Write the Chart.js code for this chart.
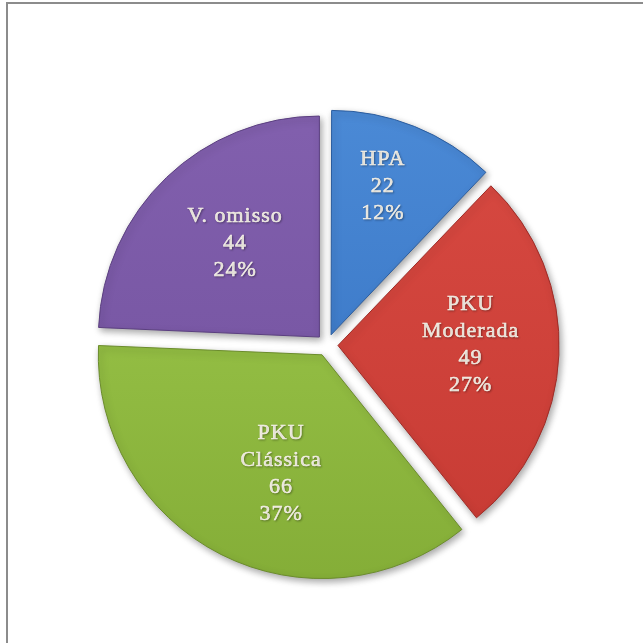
<!DOCTYPE html>
<html>
<head>
<meta charset="utf-8">
<script src="https://cdn.jsdelivr.net/npm/chart.js@4"></script>
<style>
  html, body { margin: 0; padding: 0; background: #fff; overflow: hidden; }
  #wrap { position: relative; width: 643px; height: 643px; }
  #frame { position: absolute; left: 6px; top: 2px; width: 700px; height: 700px; border: 2px solid #8c8c8c; box-sizing: border-box; }
  canvas { position: absolute; left: 0; top: 0; }
</style>
</head>
<body>
<div id="wrap">
  <div id="frame"></div>
  <canvas id="grafico" width="643" height="643"></canvas>
</div>
<script>
// Dados do gráfico
const categorias = ['HPA', 'PKU Moderada', 'PKU Clássica', 'V. omisso'];
const valores = [22, 49, 66, 44];
const percentuais = ['12%', '27%', '37%', '24%'];

// Cores (claro em cima, escuro em baixo)
const coresClaras = ['#4b8ad6', '#d84a42', '#a0cb4e', '#8260ae'];
const coresEscuras = ['#336fbf', '#c63a33', '#84ad37', '#70509c'];
const coresBorda = ['#2a5c9e', '#9e2c27', '#6b8c2c', '#5b3f80'];

// posição dos rótulos: fração do raio e fração do ângulo da fatia
const posRotulos = [
  { r: 0.71, t: 0.44 },
  { r: 0.60, t: 0.47 },
  { r: 0.57, t: 0.44 },
  { r: 0.57, t: 0.52 }
];

const explodir = 44;

function fundo(context) {
  const chart = context.chart;
  const i = context.dataIndex;
  const area = chart.chartArea;
  if (!area) return coresEscuras[i];
  const g = chart.ctx.createLinearGradient(0, area.top, 0, area.bottom);
  g.addColorStop(0, coresClaras[i]);
  g.addColorStop(1, coresEscuras[i]);
  return g;
}

// Sombra das fatias
const sombra = {
  id: 'sombra',
  beforeDatasetsDraw(chart) {
    const ctx = chart.ctx;
    ctx.save();
    ctx.shadowColor = 'rgba(0,0,0,0.35)';
    ctx.shadowBlur = 7;
    ctx.shadowOffsetX = 2;
    ctx.shadowOffsetY = 3;
  },
  afterDatasetsDraw(chart) {
    chart.ctx.restore();
  }
};

// Rótulos dentro das fatias
const rotulos = {
  id: 'rotulos',
  afterDraw(chart) {
    const ctx = chart.ctx;
    const meta = chart.getDatasetMeta(0);
    ctx.save();
    ctx.font = "22px 'Liberation Serif', 'Times New Roman', serif";
    ctx.fillStyle = '#f8f4ea';
    ctx.strokeStyle = '#f8f4ea';
    ctx.lineWidth = 0.5;
    ctx.textAlign = 'center';
    ctx.textBaseline = 'middle';
    ctx.letterSpacing = '1px';
    ctx.shadowColor = 'rgba(0,0,0,0.3)';
    ctx.shadowBlur = 2;
    ctx.shadowOffsetX = 1;
    ctx.shadowOffsetY = 1;
    meta.data.forEach((arc, i) => {
      const p = posRotulos[i];
      const mid = (arc.startAngle + arc.endAngle) / 2;
      const desl = explodir / 4;
      const cx = arc.x + Math.cos(mid) * desl;
      const cy = arc.y + Math.sin(mid) * desl;
      const ang = arc.startAngle + (arc.endAngle - arc.startAngle) * p.t;
      const x = cx + Math.cos(ang) * arc.outerRadius * p.r;
      const y = cy + Math.sin(ang) * arc.outerRadius * p.r;
      let linhas = categorias[i].split(' ');
      if (categorias[i] === 'V. omisso') linhas = ['V. omisso'];
      linhas.push(String(valores[i]), percentuais[i]);
      const alt = 27;
      const y0 = y - (linhas.length - 1) * alt / 2;
      linhas.forEach((t, k) => {
        ctx.fillText(t, x, y0 + k * alt);
        ctx.strokeText(t, x, y0 + k * alt);
      });
    });
    ctx.restore();
  }
};

new Chart(document.getElementById('grafico'), {
  type: 'pie',
  data: {
    labels: categorias,
    datasets: [{
      data: valores,
      backgroundColor: fundo,
      borderColor: coresBorda,
      borderWidth: 1,
      offset: explodir
    }]
  },
  options: {
    responsive: false,
    animation: false,
    radius: 221,
    layout: { padding: { left: 92, right: 81, top: 110, bottom: 63 } },
    plugins: {
      legend: { display: false },
      tooltip: { enabled: false }
    }
  },
  plugins: [sombra, rotulos]
});
</script>
</body>
</html>
